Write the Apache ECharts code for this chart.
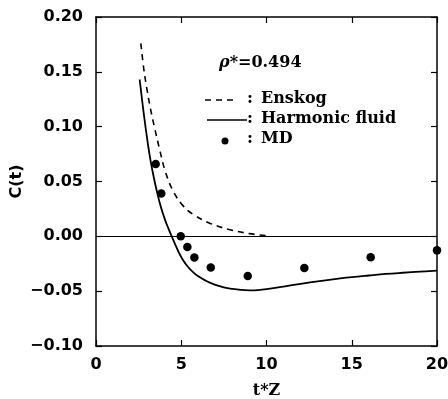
<!DOCTYPE html>
<html>
<head>
<meta charset="utf-8">
<script src="https://cdn.jsdelivr.net/npm/echarts@6/dist/echarts.min.js"></script>
<style>
html, body { margin: 0; padding: 0; background: #fff; }
#chart { width: 448px; height: 399px; }
</style>
</head>
<body>
<div id="chart"></div>
<script>
// Enskog theory (dashed)
const enskog = [
  [2.63, 0.176], [2.8, 0.153], [3.0, 0.133], [3.2, 0.116], [3.45, 0.098],
  [3.75, 0.078], [4.05, 0.060], [4.5, 0.042], [5.1, 0.028], [5.7, 0.020],
  [6.7, 0.0118], [7.8, 0.0063], [9.0, 0.0025], [10.0, 0.0006]
];
// harmonic fluid (solid)
const harmonic = [
  [2.56, 0.143], [2.8, 0.112], [3.0, 0.089], [3.2, 0.069], [3.4, 0.053],
  [3.6, 0.039], [3.8, 0.027], [4.05, 0.015], [4.25, 0.007], [4.44, 0.0],
  [4.65, -0.0075], [4.85, -0.0145], [5.1, -0.0215], [5.4, -0.028], [5.7, -0.0327],
  [6.0, -0.0365], [6.5, -0.041], [7.0, -0.0443], [7.5, -0.0466], [8.0, -0.048],
  [8.5, -0.0489], [9.0, -0.0492], [9.5, -0.049], [10, -0.0482], [11, -0.0458],
  [12, -0.0433], [13, -0.041], [14, -0.039], [15, -0.0372], [16, -0.0357],
  [17, -0.0343], [18, -0.0332], [19, -0.0322], [20, -0.0313]
];
// molecular dynamics points
const md = [
  [3.5, 0.066], [3.83, 0.039], [4.97, 0.0], [5.36, -0.0097], [5.77, -0.0194],
  [6.73, -0.0285], [8.9, -0.0361], [12.22, -0.0288], [16.11, -0.0191], [20.0, -0.0128]
];

const sansBold = { fontFamily: "DejaVu Sans", fontWeight: "bold", fontSize: 16, color: "#000" };
const serifBold = "bold 16px 'DejaVu Serif'";

const axisCommon = {
  axisLine: { show: true, onZero: false, lineStyle: { color: "#000", width: 1.5 } },
  axisTick: { show: true, inside: true, length: 6, lineStyle: { color: "#000", width: 1.2 } },
  splitLine: { show: false }
};

let chart = echarts.init(document.getElementById("chart"));
chart.setOption({
  animation: false,
  backgroundColor: "#fff",
  grid: { left: 96, right: 11, top: 17, bottom: 53, outerBoundsMode: "none", containLabel: false },
  xAxis: [
    Object.assign({
      type: "value", min: 0, max: 20, interval: 5, position: "bottom",
      name: "t*Z", nameLocation: "middle", nameGap: 37,
      nameTextStyle: { fontFamily: "DejaVu Serif", fontWeight: "bold", fontSize: 16, color: "#000" },
      axisLabel: Object.assign({ margin: 11 }, sansBold)
    }, axisCommon),
    Object.assign({
      type: "value", min: 0, max: 20, interval: 5, position: "top",
      axisLabel: { show: false }
    }, axisCommon)
  ],
  yAxis: [
    Object.assign({
      type: "value", min: -0.1, max: 0.2, interval: 0.05, position: "left",
      name: "C(t)", nameLocation: "middle", nameGap: 71, nameRotate: 90,
      nameMoveOverlap: false,
      nameTextStyle: { fontFamily: "DejaVu Sans", fontWeight: "bold", fontSize: 16, color: "#000" },
      axisLabel: Object.assign({
        margin: 13,
        formatter: (v) => v.toFixed(2).replace("-", "\u2212")
      }, sansBold)
    }, axisCommon),
    Object.assign({
      type: "value", min: -0.1, max: 0.2, interval: 0.05, position: "right",
      axisLabel: { show: false }
    }, axisCommon)
  ],
  series: [
    {
      name: "Enskog", type: "line", data: enskog, symbol: "none",
      smooth: 0.4,
      lineStyle: { color: "#000", width: 1.6, type: [6, 5] }
    },
    {
      name: "Harmonic fluid", type: "line", data: harmonic, symbol: "none",
      smooth: 0.4,
      lineStyle: { color: "#000", width: 1.8 },
      markLine: {
        silent: true, symbol: "none", label: { show: false },
        lineStyle: { color: "#000", width: 1, type: "solid" },
        data: [{ yAxis: 0 }]
      }
    },
    {
      name: "MD", type: "scatter", data: md, symbol: "circle", symbolSize: 8.5,
      itemStyle: { color: "#000", opacity: 1 }, z: 5
    }
  ],
  graphic: [
    {
      type: "text", left: 219, top: 55,
      style: {
        text: "{i|\u03c1}*=0.494", font: serifBold, fill: "#000",
        rich: { i: { fontFamily: "DejaVu Serif", fontStyle: "italic", fontWeight: "bold", fontSize: 16 } }
      }
    },
    {
      type: "line", shape: { x1: 205, y1: 100, x2: 234, y2: 100 },
      style: { stroke: "#000", lineWidth: 1.4, lineDash: [6, 5] }
    },
    { type: "text", left: 247, top: 91, style: { text: ":", font: serifBold, fill: "#000" } },
    { type: "text", left: 261, top: 91, style: { text: "Enskog", font: serifBold, fill: "#000" } },
    {
      type: "line", shape: { x1: 207, y1: 120, x2: 247, y2: 120 },
      style: { stroke: "#000", lineWidth: 1.4 }
    },
    { type: "text", left: 247, top: 111, style: { text: ":", font: serifBold, fill: "#000" } },
    { type: "text", left: 261, top: 111, style: { text: "Harmonic fluid", font: serifBold, fill: "#000" } },
    { type: "circle", shape: { cx: 225, cy: 141, r: 3.5 }, style: { fill: "#000" } },
    { type: "text", left: 247, top: 131, style: { text: ":", font: serifBold, fill: "#000" } },
    { type: "text", left: 261, top: 131, style: { text: "MD", font: serifBold, fill: "#000" } }
  ]
});
</script>
</body>
</html>
